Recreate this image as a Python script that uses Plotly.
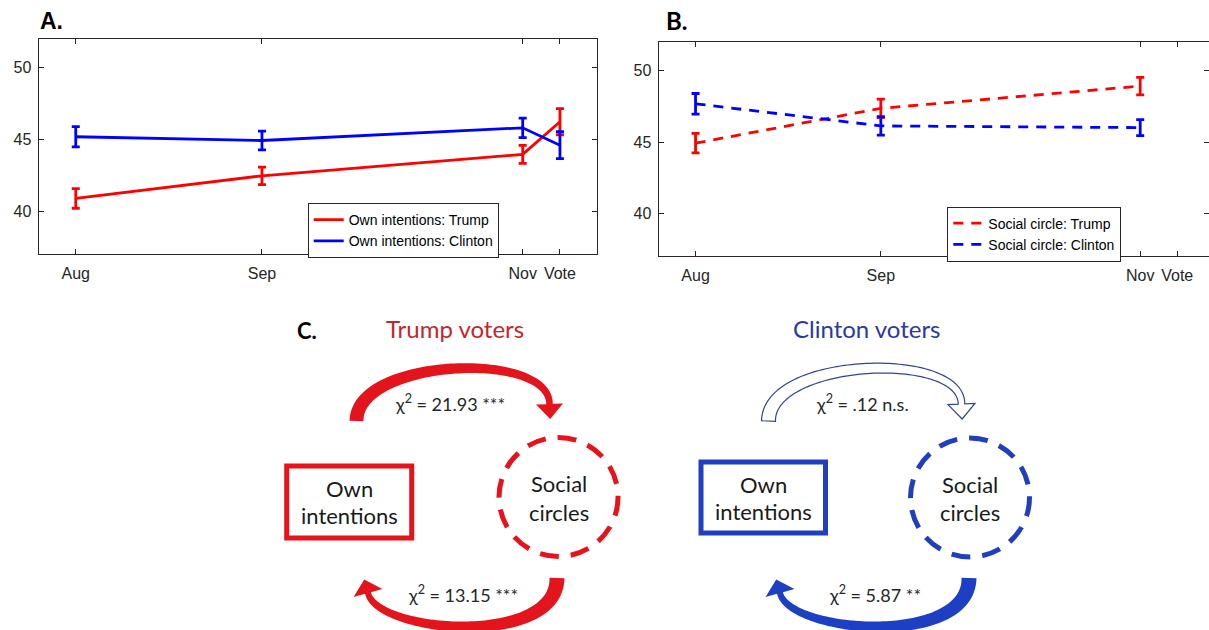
import numpy as np
import plotly.graph_objects as go

W, H = 1209, 630

# ---- survey waves (x position in weeks after the August wave) ----
wave_labels = ["Aug", "Sep", "Nov", "Vote"]
wave_weeks = [0, 5, 12, 13]

# Panel A: own voting intentions (mean, standard error)
own_trump = [40.89, 42.47, 43.96, 46.24]
own_trump_se = [0.68, 0.61, 0.63, 0.91]
own_clinton = [45.19, 44.93, 45.81, 44.60]
own_clinton_se = [0.71, 0.65, 0.68, 0.94]

# Panel B: perceived intentions of the social circle (no vote wave)
social_trump = [44.93, 47.37, 48.93]
social_trump_se = [0.68, 0.64, 0.61]
social_clinton = [47.69, 46.14, 46.02]
social_clinton_se = [0.72, 0.65, 0.56]

# Panel C: cross-lagged chi-square tests
chi_trump = ["21.93 ***", "13.15 ***"]
chi_clinton = [".12 n.s.", "5.87 **"]

RED = "#ff0000"
BLUE = "#0000ff"
AX = "#262626"
TICKFONT = dict(family="Liberation Sans, Arial, sans-serif", size=16, color=AX)
C_FONT = "Lato, Open Sans, sans-serif"


def px(x, y):
    """Pixel position -> paper coordinates."""
    return x / W, 1 - y / H


fig = go.Figure()


def add_series(x, y, se, color, name, xa, ya, legend, dash=None):
    fig.add_trace(go.Scatter(
        x=x, y=y, mode="lines", name=name,
        line=dict(color=color, width=2.8, dash=dash),
        error_y=dict(type="data", array=se, color=color, thickness=2.8, width=4),
        xaxis=xa, yaxis=ya, legend=legend,
    ))


add_series(wave_weeks, own_trump, own_trump_se, RED,
           "Own intentions: Trump", "x", "y", "legend")
add_series(wave_weeks, own_clinton, own_clinton_se, BLUE,
           "Own intentions: Clinton", "x", "y", "legend")
add_series(wave_weeks[:3], social_trump, social_trump_se, RED,
           "Social circle: Trump", "x2", "y2", "legend2", dash="10px,8px")
add_series(wave_weeks[:3], social_clinton, social_clinton_se, BLUE,
           "Social circle: Clinton", "x2", "y2", "legend2", dash="10px,8px")

xcommon = dict(range=[-1, 14], tickmode="array", tickvals=wave_weeks,
               ticktext=wave_labels, ticks="inside", ticklen=5, tickcolor=AX,
               tickwidth=1, showline=True, linecolor=AX, linewidth=1,
               mirror="ticks", showgrid=False, zeroline=False,
               tickfont=TICKFONT, tickangle=0, ticklabelstandoff=4)
ycommon = dict(range=[37, 52], tickvals=[40, 45, 50], ticks="inside",
               ticklen=5, tickcolor=AX, tickwidth=1, showline=True,
               linecolor=AX, linewidth=1, mirror="ticks", showgrid=False,
               zeroline=False, tickfont=TICKFONT, ticklabelstandoff=3)

# panel B runs past the right edge of the page
b_left, b_aug, b_unit = 658.5, 695.6, 37.05
b_right_val = (W - b_aug) / b_unit

legend_style = dict(xanchor="left", yanchor="top", bgcolor="white",
                    bordercolor=AX, borderwidth=1, tracegroupgap=0,
                    font=dict(family="Liberation Sans, Arial, sans-serif",
                              size=14, color="black"))

fig.update_layout(
    width=W, height=H, margin=dict(l=0, r=0, t=0, b=0),
    paper_bgcolor="white", plot_bgcolor="white",
    xaxis=dict(domain=[38.5 / W, 597.2 / W], anchor="y", **xcommon),
    yaxis=dict(domain=[1 - 254.3 / H, 1 - 39 / H], anchor="x", **ycommon),
    xaxis2=dict(domain=[b_left / W, 1.0], anchor="y2",
                **{**xcommon, "range": [-1, b_right_val]}),
    yaxis2=dict(domain=[1 - 256.3 / H, 1 - 42.3 / H], anchor="x2", **ycommon),
    legend=dict(x=307.7 / W, y=1 - 203 / H, **legend_style),
    legend2=dict(x=947.3 / W, y=1 - 206.5 / H, **legend_style),
    showlegend=True,
)

annotations = []
shapes = []


def label(x, y, text, size, color="#1a1a1a", family=C_FONT, bold=False):
    ax, ay = px(x, y)
    if bold:
        text = f"<b>{text}</b>"
    annotations.append(dict(x=ax, y=ay, xref="paper", yref="paper", text=text,
                            showarrow=False, xanchor="center", yanchor="middle",
                            font=dict(family=family, size=size, color=color)))


# panel letters
label(51.5, 21, "A.", 23, color="black",
      family="Liberation Sans, Arial, sans-serif", bold=True)
label(677, 21, "B.", 24, color="black", bold=True)
label(306.5, 330.5, "C.", 22, color="black", bold=True)


def bezier(p0, p1, p2, p3, n=80):
    t = np.linspace(0, 1, n)[:, None]
    p0, p1, p2, p3 = (np.array(p, float) for p in (p0, p1, p2, p3))
    return ((1 - t) ** 3) * p0 + 3 * ((1 - t) ** 2) * t * p1 \
        + 3 * (1 - t) * t ** 2 * p2 + t ** 3 * p3


def curved_arrow(ctrl, w0, w1, head_w, head_len):
    """Outline of a tapered curved block arrow as an SVG path (paper coords)."""
    pts = bezier(*ctrl)
    d = np.gradient(pts, axis=0)
    d /= np.linalg.norm(d, axis=1)[:, None]
    nrm = np.stack([-d[:, 1], d[:, 0]], axis=1)
    half = np.linspace(w0, w1, len(pts))[:, None] / 2
    left = pts + nrm * half
    right = pts - nrm * half
    end, de, ne = pts[-1], d[-1], nrm[-1]
    head = [end + ne * head_w / 2, end + de * head_len, end - ne * head_w / 2]
    poly = list(left) + head + list(right[::-1])
    coords = [px(x, y) for x, y in poly]
    return "M " + " L ".join(f"{x:.5f},{y:.5f}" for x, y in coords) + " Z"


def box(x0, y0, x1, y1, color):
    a, b = px(x0, y0)
    c, d = px(x1, y1)
    shapes.append(dict(type="rect", xref="paper", yref="paper",
                       x0=a, y0=d, x1=c, y1=b,
                       line=dict(color=color, width=5), fillcolor="rgba(0,0,0,0)"))


def dashed_circle(cx, cy, r, color):
    a, b = px(cx - r, cy + r)
    c, d = px(cx + r, cy - r)
    shapes.append(dict(type="circle", xref="paper", yref="paper",
                       x0=a, y0=b, x1=c, y1=d,
                       line=dict(color=color, width=5, dash="19px,12px"),
                       fillcolor="rgba(0,0,0,0)"))


def arrow(ctrl, w0, w1, hw, hl, fill, outline=None):
    shapes.append(dict(type="path", xref="paper", yref="paper",
                       path=curved_arrow(ctrl, w0, w1, hw, hl),
                       fillcolor=fill,
                       line=dict(color=outline or fill,
                                 width=1.2 if outline else 0)))


def diagram(dx, title, title_color, color, chi, top_filled, top_fill,
            bottom_fill, rect, circ):
    label(455 + dx, 328, title, 24, color=title_color)
    box(*rect, color)
    rx = (rect[0] + rect[2]) / 2
    ry = (rect[1] + rect[3]) / 2
    label(rx, ry - 13.5, "Own", 22)
    label(rx, ry + 13.5, "intentions", 22)
    dashed_circle(circ[0], circ[1], 59.5, color)
    label(circ[0], circ[1] - 13.5, "Social", 22)
    label(circ[0], circ[1] + 15, "circles", 22)

    # own intentions -> social circles (upper arc)
    up = [(356.5 + dx, 421), (356.5 + dx, 358), (549.5 + dx, 350), (549.5 + dx, 404)]
    if top_filled:
        arrow(up, 14, 6.5, 27, 15, top_fill)
    else:
        arrow(up, 14, 6.5, 27, 15, "white", outline=top_fill)
    label(450 + dx, 403, f"χ<sup>2</sup> = {chi[0]}", 18, color=AX)

    # social circles -> own intentions (lower arc)
    low = [(557 + dx, 578), (557 + dx, 648), (377 + dx, 633), (368 + dx, 593)]
    arrow(low, 15, 6, 30, 14, bottom_fill)
    label(463 + dx, 594, f"χ<sup>2</sup> = {chi[1]}", 18, color=AX)


diagram(0, "Trump voters", "#c1272d", "#e8121a", chi_trump, True,
        "#e3141c", "#e3141c",
        rect=(286.7, 466, 411.7, 538), circ=(558.5, 497))
diagram(412, "Clinton voters", "#2b3a9c", "#1f3fbf", chi_clinton, False,
        "#34448f", "#1c3fc4",
        rect=(701, 462, 825.5, 533), circ=(970, 497.5))

fig.update_layout(annotations=annotations, shapes=shapes)
fig.write_html("out.html")
